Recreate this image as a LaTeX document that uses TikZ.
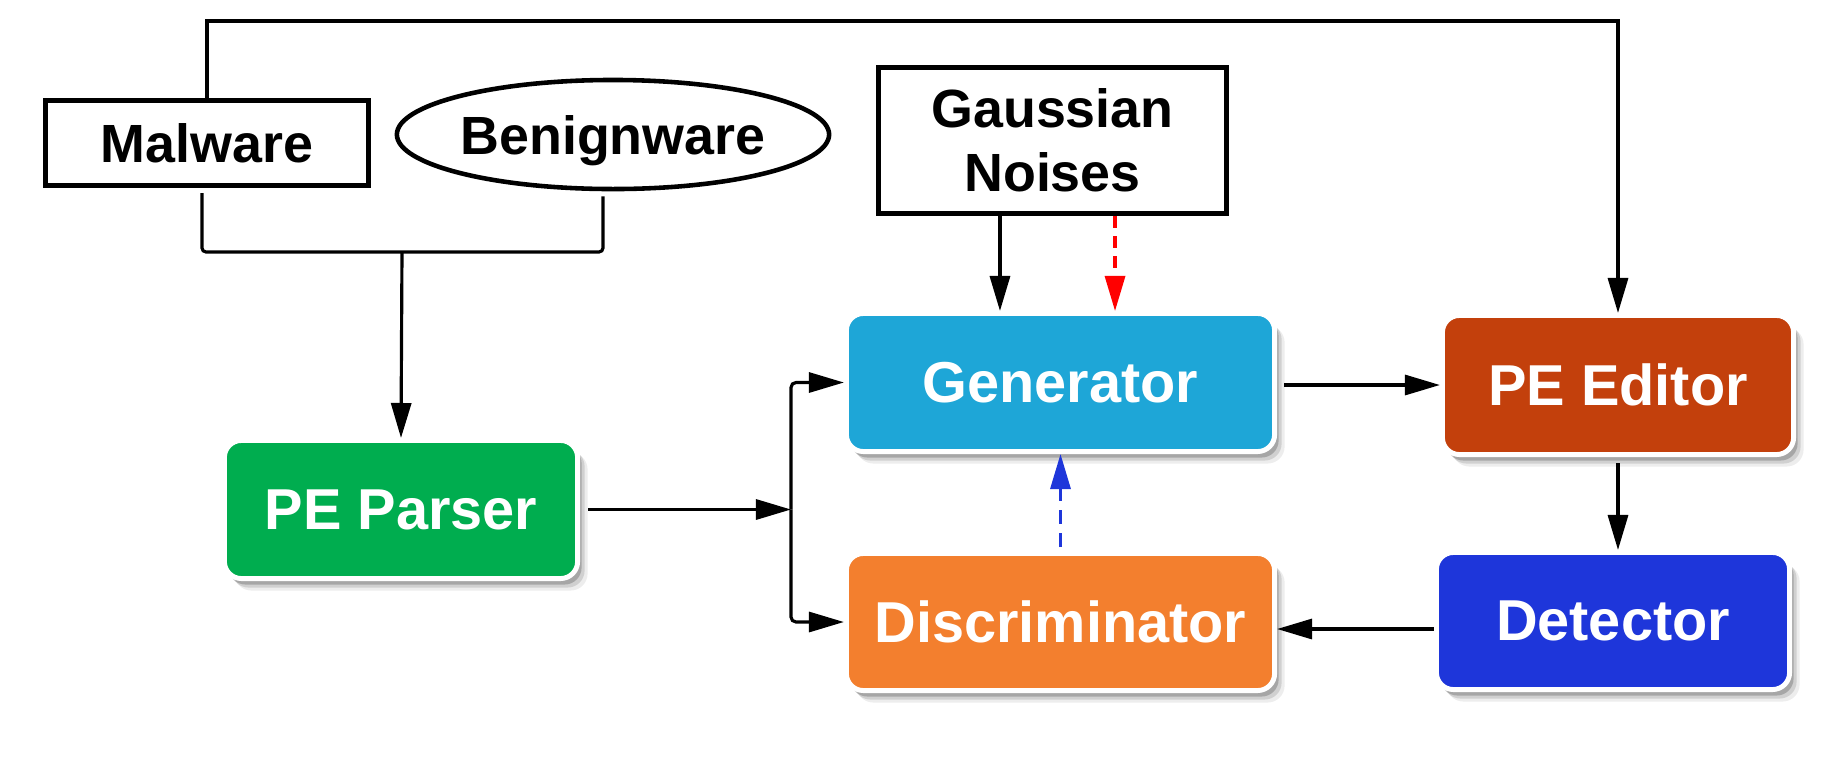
\documentclass[tikz,border=0pt]{standalone}
\usepackage{fontspec}
\setmainfont{Liberation Sans}
\usetikzlibrary{arrows.meta,shadows,shapes.geometric,calc}
\definecolor{cgen}{HTML}{1EA6D7}
\definecolor{cpep}{HTML}{00AD4F}
\definecolor{cdis}{HTML}{F37F2E}
\definecolor{cpee}{HTML}{C3400C}
\definecolor{cdet}{HTML}{1E36DA}
\begin{document}
\begin{tikzpicture}[x=0.01cm,y=-0.01cm,
  box/.style={draw=white, line width=1.4pt, rounded corners=0.17cm, text=white,
    font=\fontsize{16.4}{19}\selectfont\bfseries, inner sep=0pt,
    drop shadow={shadow xshift=0.10cm, shadow yshift=-0.12cm, fill=black, opacity=0.07},
    drop shadow={shadow xshift=0.07cm, shadow yshift=-0.09cm, fill=black, opacity=0.12},
    drop shadow={shadow xshift=0.04cm, shadow yshift=-0.06cm, fill=black, opacity=0.2}},
  wbox/.style={draw=black, line width=1.5pt, fill=white, align=center, inner sep=0pt,
    font=\fontsize{15.3}{18.2}\selectfont\bfseries},
  plain/.style={line width=0.9pt},
  conn/.style={line width=0.9pt, -{Triangle[length=0.35cm,width=0.2cm]}},
]
\useasboundingbox[fill=white] (0,0) rectangle (1838,763);

% input nodes
\node[wbox, minimum width=3.23cm, minimum height=0.85cm] (mal) at (207,143) {Malware};
\node[wbox, ellipse, line width=1.3pt, minimum width=4.32cm, minimum height=1.09cm,
      text height=0.39cm, text depth=0pt] (ben) at (613,134.5) {Benignware};
\node[wbox, minimum width=3.48cm, minimum height=1.46cm] (gau) at (1052.5,140.5) {Gaussian\\Noises};

% coloured boxes
\node[box, fill=cpep, minimum width=3.53cm, minimum height=1.38cm] (pep) at (401,509.5) {PE Parser};
\node[box, fill=cgen, minimum width=4.28cm, minimum height=1.38cm] (gen) at (1060.5,382.5) {Generator};
\node[box, fill=cdis, minimum width=4.28cm, minimum height=1.37cm] (dis) at (1060.5,622) {Discriminator};
\node[box, fill=cpee, minimum width=3.51cm, minimum height=1.39cm] (pee) at (1618,385) {PE Editor};
\node[box, fill=cdet, minimum width=3.53cm, minimum height=1.37cm] (det) at (1613,621) {Detector};

% top feedback line malware -> PE editor
\coordinate (topy) at (206,21);
\draw[conn] (mal.north) -- (mal.north |- topy) -| (pee.north);

% bracket malware/benignware -> PE parser
\coordinate (j) at (402,252);
\draw[plain, rounded corners=0.04cm] ([shift={(-0.05cm,-0.05cm)}]mal.south) |- (j) -| ([shift={(-0.1cm,-0.05cm)}]ben.south);
\draw[conn] (j) -- (pep.north);

% PE parser -> split -> generator / discriminator
\coordinate (sp) at (791,509.5);
\draw[conn, shorten <=0.08cm] (pep.east) -- (sp);
\draw[conn, rounded corners=0.05cm] (sp) |- (gen.west);
\draw[conn, rounded corners=0.05cm] (sp) |- (dis.west);

% gaussian -> generator
\draw[conn] ([xshift=-0.525cm]gau.south) -- ([xshift=-0.525cm]gau.south |- gen.north);
\draw[conn, red, dash pattern=on 0.12cm off 0.08cm] ([xshift=0.625cm]gau.south) -- ([xshift=0.625cm]gau.south |- gen.north);

% generator -> PE editor -> detector -> discriminator
\draw[conn, shorten <=0.07cm] (gen.east |- pee.west) -- (pee.west);
\draw[conn, shorten <=0.06cm] (pee.south) -- (pee.south |- det.north);
\draw[conn] ([yshift=-0.08cm]det.west) -- ([yshift=-0.08cm]det.west -| dis.east);

% discriminator -> generator (dashed)
\draw[conn, cdet, dash pattern=on 0.14cm off 0.09cm, shorten <=0.04cm] (dis.north) -- (gen.south);
\end{tikzpicture}
\end{document}
